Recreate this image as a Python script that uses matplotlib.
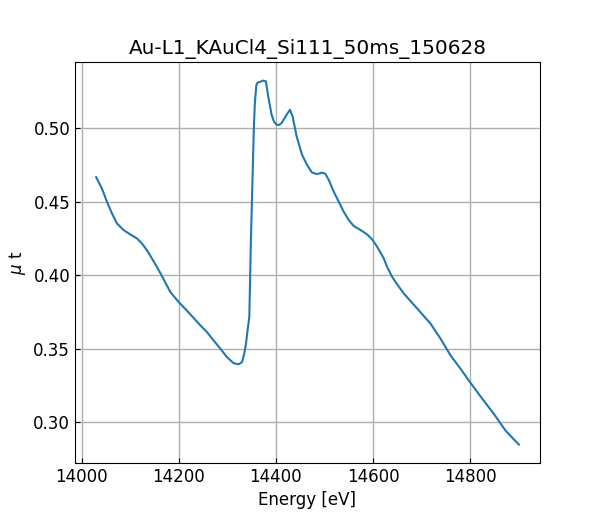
import matplotlib
matplotlib.use("Agg")
import matplotlib.pyplot as plt

plt.rcParams["font.size"] = 12

energy = [14029.7, 14041.4, 14051.8, 14062.1, 14072.4, 14086.0, 14099.8, 14113.6,
          14123.9, 14134.2, 14144.5, 14154.8, 14163.4, 14182.3, 14199.4, 14215.0,
          14230.3, 14244.1, 14257.9, 14271.5, 14285.4, 14299.2, 14312.8, 14323.1,
          14330.1, 14334.8, 14338.4, 14341.6, 14345.2, 14348.5, 14350.5, 14354.6,
          14356.7, 14359.5, 14362.0, 14367.0, 14373.8, 14379.4, 14384.1, 14391.1,
          14396.0, 14401.4, 14406.0, 14411.8, 14422.1, 14428.9, 14434.4, 14442.7,
          14453.8, 14464.1, 14474.4, 14484.7, 14495.1, 14501.9, 14508.7, 14519.0,
          14529.3, 14539.6, 14549.9, 14560.2, 14574.0, 14587.8, 14598.1, 14608.5,
          14622.1, 14629.0, 14639.4, 14646.2, 14663.3, 14690.9, 14718.4, 14739.0,
          14759.6, 14780.2, 14797.3, 14825.0, 14848.9, 14873.0, 14900.4]
mu_t = [0.4667, 0.4592, 0.4501, 0.4422, 0.4353, 0.4308, 0.4278, 0.4251,
        0.4217, 0.4171, 0.4115, 0.4057, 0.4006, 0.3887, 0.3819, 0.3765,
        0.3710, 0.3660, 0.3614, 0.3557, 0.3501, 0.3443, 0.3402, 0.3394,
        0.3409, 0.3467, 0.3535, 0.3626, 0.3716, 0.4239, 0.4492, 0.5012,
        0.5172, 0.5290, 0.5310, 0.5315, 0.5324, 0.5319, 0.5217, 0.5092,
        0.5045, 0.5024, 0.5022, 0.5035, 0.5092, 0.5126, 0.5080, 0.4944,
        0.4819, 0.4751, 0.4698, 0.4688, 0.4698, 0.4690, 0.4649, 0.4569,
        0.4501, 0.4432, 0.4376, 0.4335, 0.4308, 0.4278, 0.4244, 0.4194,
        0.4115, 0.4057, 0.3989, 0.3955, 0.3876, 0.3774, 0.3671, 0.3569,
        0.3455, 0.3364, 0.3284, 0.3160, 0.3057, 0.2943, 0.2848]

title = "Au-L1_KAuCl4_Si111_50ms_150628"

fig, ax = plt.subplots(figsize=(6, 5.2), dpi=100)
ax.plot(energy, mu_t, color="#1f77b4", linewidth=1.5)
ax.set_title(title, fontsize=14.4)
ax.set_xlabel("Energy [eV]")
ax.set_ylabel(r"$\mu$ t")
ax.tick_params(direction="in")
ax.set_xticks([14000, 14200, 14400, 14600, 14800])
ax.grid(True, color="#b0b0b0", linewidth=1.0)
fig.savefig("out.png", dpi=100)
